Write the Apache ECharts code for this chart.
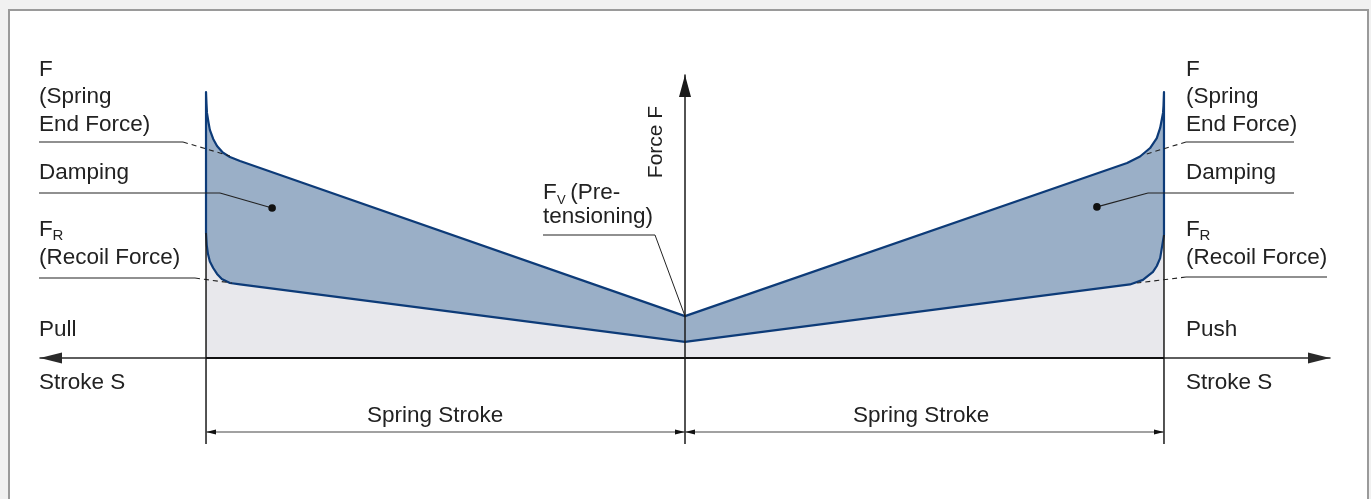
<!DOCTYPE html>
<html><head><meta charset="utf-8">
<script src="https://cdn.jsdelivr.net/npm/echarts@6/dist/echarts.min.js"></script>
<style>html,body{margin:0;padding:0;background:#f1f1f1;overflow:hidden}#c{width:1371px;height:499px}</style>
</head><body><div id="c"></div>
<script>
// Stroke S in % of the spring stroke (negative = pull, positive = push); force F in relative units (axis 0..100)
const upperStroke = [-100, -99.9, -99.8, -99.5, -99.2, -98.5, -97.7, -96.5, -95.0, -92.9, 0, 92.3, 95.0, 97.1, 98.5, 99.2, 99.8, 99.9, 100];
const upperForce  = [94.0, 89.8, 86.6, 83.4, 80.6, 77.4, 74.9, 72.6, 71.0, 69.6, 14.8, 68.9, 71.2, 74.2, 77.7, 81.3, 86.6, 89.1, 94.0];
const lowerStroke = [-100, -99.85, -99.6, -99.2, -98.5, -97.7, -96.7, -95.0, -92.9, 0, 92.9, 95.6, 97.7, 98.5, 99.2, 99.65, 100];
const lowerForce  = [44.2, 39.9, 36.8, 34.1, 31.8, 29.7, 27.9, 26.5, 26.0, 5.7, 26.0, 27.6, 30.4, 32.5, 35.3, 39.9, 43.5];
// annotation anchor points (stroke, force)
const dampingDots = [[-86.2, 53.0], [86.0, 53.4]];
const endForceKnees = [[-95.0, 71.4], [95.6, 71.7]];
const recoilKnees = [[-94.6, 26.5], [94.4, 26.5]];
const pretensionPoint = [0, 14.8];
// texts
const endForceLines = ['F', '(Spring', 'End Force)'];
const dampingText = 'Damping';
const recoilLines = ['F', 'R', '(Recoil Force)'];
const pullText = 'Pull', pushText = 'Push', strokeText = 'Stroke S';
const forceAxisText = 'Force F';
const pretensionLines = ['F', 'V', ' (Pre-', 'tensioning)'];
const springStrokeText = 'Spring Stroke';

const FONT = '"Liberation Sans", Arial, sans-serif';
const FS = 22.5;
const TXT = '#222';
const BLUE = '#0d3b78';

const chart = echarts.init(document.getElementById('c'), null, {renderer: 'canvas'});

function annotations(params, api) {
  const els = [];
  const P = (p) => api.coord(p);
  const line = (x1, y1, x2, y2, o = {}) => els.push({type: 'line', shape: {x1, y1, x2, y2},
    style: {stroke: o.c || '#222', lineWidth: o.w || 1.2, lineDash: o.dash || null}});
  const text = (str, x, base, size = FS, o = {}) => els.push({type: 'text', x: x, y: base - 0.31 * size,
    style: {text: str, font: size + 'px ' + FONT, fill: TXT, align: o.align || 'left', verticalAlign: 'middle'}});
  const tri = (pts) => els.push({type: 'polygon', shape: {points: pts}, style: {fill: '#111'}});

  // side labels
  const sides = [{x: 39, ruleEnd: 183, dampEnd: 220, recEnd: 195, side: 0, bottom: pullText},
                 {x: 1186, ruleEnd: 1294, dampEnd: 1148, recEnd: 1327, side: 1, bottom: pushText}];
  sides.forEach((s) => {
    text(endForceLines[0], s.x, 77);
    text(endForceLines[1], s.x, 104);
    text(endForceLines[2], s.x, 132);
    text(dampingText, s.x, 180);
    text(recoilLines[0], s.x, 237);
    text(recoilLines[1], s.x + 13.5, 241, 15);
    text(recoilLines[2], s.x, 265);
    text(s.bottom, s.x, 337);
    text(strokeText, s.x, 390);
    const kE = P(endForceKnees[s.side]), kR = P(recoilKnees[s.side]), d = P(dampingDots[s.side]);
    if (s.side === 0) {
      line(s.x, 142, s.ruleEnd, 142);
      line(s.ruleEnd, 142, kE[0], kE[1], {dash: [5, 4], w: 1.1});
      line(s.x, 193, s.dampEnd, 193);
      line(s.dampEnd, 193, d[0], d[1]);
      line(s.x, 278, s.recEnd, 278);
      line(s.recEnd, 278, kR[0], kR[1], {dash: [5, 4], w: 1.1});
    } else {
      line(s.x, 142, s.ruleEnd, 142);
      line(s.x, 142, kE[0], kE[1], {dash: [5, 4], w: 1.1});
      line(s.dampEnd, 193, s.ruleEnd, 193);
      line(s.dampEnd, 193, d[0], d[1]);
      line(s.x, 277, s.recEnd, 277);
      line(s.x, 277, kR[0], kR[1], {dash: [5, 4], w: 1.1});
    }
    els.push({type: 'circle', shape: {cx: d[0], cy: d[1], r: 3.8}, style: {fill: '#111'}});
  });

  // force axis title (rotated)
  els.push({type: 'text', x: 656, y: 142, rotation: Math.PI / 2,
    style: {text: forceAxisText, font: '21px ' + FONT, fill: TXT, align: 'center', verticalAlign: 'middle'}});

  // pretensioning label
  text(pretensionLines[0], 543, 200);
  text(pretensionLines[1], 557, 204, 13);
  text(pretensionLines[2], 564, 200);
  text(pretensionLines[3], 543, 224);
  const pv = P(pretensionPoint);
  line(543, 235, 655, 235);
  line(655, 235, pv[0], pv[1], {w: 1});

  // extension lines and dimension lines
  const xL = P([-100, 0])[0], xC = P([0, 0])[0], xR = P([100, 0])[0], y0 = P([0, 0])[1];
  const yL = P([-100, lowerForce[0]])[1], yR = P([100, lowerForce[lowerForce.length - 1]])[1];
  const yDim = 432, yExt = 444;
  line(xL, yL, xL, yExt, {c: '#1a1a1a', w: 1.5});
  line(xR, yR, xR, yExt, {c: '#1a1a1a', w: 1.5});
  line(xC, y0, xC, yExt, {c: '#1a1a1a', w: 1.5});
  line(xL, y0, xR, y0, {c: '#111', w: 2});
  line(xL, yDim, xR, yDim, {c: '#444', w: 1.2});
  tri([[xL, yDim], [xL + 10, yDim - 2.6], [xL + 10, yDim + 2.6]]);
  tri([[xC, yDim], [xC - 10, yDim - 2.6], [xC - 10, yDim + 2.6]]);
  tri([[xC, yDim], [xC + 10, yDim - 2.6], [xC + 10, yDim + 2.6]]);
  tri([[xR, yDim], [xR - 10, yDim - 2.6], [xR - 10, yDim + 2.6]]);
  text(springStrokeText, 367, 423);
  text(springStrokeText, 853, 423);
  return {type: 'group', children: els};
}

chart.setOption({
  animation: false,
  backgroundColor: 'transparent',
  graphic: [{type: 'rect', z: -100, shape: {x: 9, y: 10, width: 1359, height: 520},
    style: {fill: '#ffffff', stroke: '#9a9a9a', lineWidth: 2}}],
  grid: {left: 40, right: 41, top: 75, bottom: 141},
  xAxis: {type: 'value', min: -134.66, max: 134.66,
    axisLine: {show: true, onZero: true, symbol: ['triangle', 'triangle'], symbolSize: [11, 22], symbolOffset: [11, -11],
      lineStyle: {color: '#2a2a2a', width: 1.5}},
    axisTick: {show: false}, axisLabel: {show: false}, splitLine: {show: false}},
  yAxis: {type: 'value', min: 0, max: 100, z: 10,
    axisLine: {show: true, onZero: true, symbol: ['none', 'triangle'], symbolSize: [12, 22], symbolOffset: [0, -11],
      lineStyle: {color: '#1a1a1a', width: 1.5}},
    axisTick: {show: false}, axisLabel: {show: false}, splitLine: {show: false}},
  series: [
    {name: 'Recoil force', type: 'line', z: 1, symbol: 'none', silent: true,
      data: lowerStroke.map((s, i) => [s, lowerForce[i]]),
      lineStyle: {width: 0, opacity: 0}, areaStyle: {color: '#e8e8ec', opacity: 1}},
    {name: 'Damping', type: 'custom', z: 3, silent: true, clip: false, data: [[0, 0]],
      renderItem: (params, api) => {
        const up = upperStroke.map((s, i) => api.coord([s, upperForce[i]]));
        const lo = lowerStroke.map((s, i) => api.coord([s, lowerForce[i]])).reverse();
        return {type: 'polygon', shape: {points: up.concat(lo)},
          style: {fill: '#9aafc7', stroke: BLUE, lineWidth: 2.2, lineJoin: 'round'}};
      }},
    {name: 'Annotations', type: 'custom', z: 5, silent: true, clip: false, data: [[0, 0]],
      renderItem: annotations}
  ]
});
</script>
</body></html>
